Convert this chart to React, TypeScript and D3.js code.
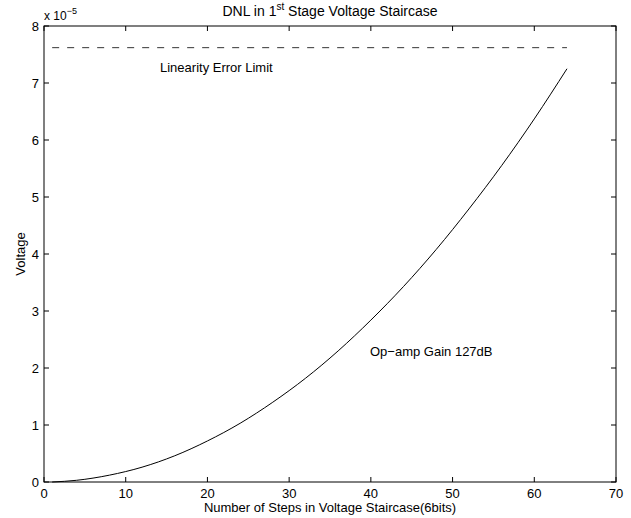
import React from "react";
import * as d3 from "d3";

const steps = [1, 4, 8, 12, 16, 20, 24, 28, 32, 36, 40, 44, 48, 52, 56, 60, 64];
const dnl = [0, 0.03, 0.12, 0.26, 0.46, 0.72, 1.03, 1.4, 1.82, 2.3, 2.84, 3.43, 4.08, 4.79, 5.55, 6.37, 7.25];
const limitX = [1, 64];
const limitValue = 7.62;
const xTicks = [0, 10, 20, 30, 40, 50, 60, 70];
const yTicks = [0, 1, 2, 3, 4, 5, 6, 7, 8];

const W = 631;
const H = 518;
const L = 44;
const R = 616;
const T = 26;
const B = 482;
const FONT = "'Liberation Sans', Arial, Helvetica, sans-serif";

export default function App() {
  const x = d3.scaleLinear().domain([0, 70]).range([L, R]);
  const y = d3.scaleLinear().domain([0, 8]).range([B, T]);
  const line = d3
    .line<number>()
    .x((_, i) => x(steps[i]))
    .y((d) => y(d))
    .curve(d3.curveMonotoneX);
  const path = line(dnl) || "";
  const tl = 5;
  return (
    <svg
      width={W}
      height={H}
      style={{ position: "absolute", left: 0, top: 0, background: "#fff" }}
      fontFamily={FONT}
    >
      <rect x={0} y={0} width={W} height={H} fill="#fff" />
      {xTicks.map((t) => (
        <g key={"x" + t}>
          <line x1={x(t)} x2={x(t)} y1={B} y2={B - tl} stroke="#000" />
          <line x1={x(t)} x2={x(t)} y1={T} y2={T + tl} stroke="#000" />
          <text x={x(t)} y={B + 16} fontSize={13} textAnchor="middle" fill="#000">
            {t}
          </text>
        </g>
      ))}
      {yTicks.map((t) => (
        <g key={"y" + t}>
          <line x1={L} x2={L + tl} y1={y(t)} y2={y(t)} stroke="#000" />
          <line x1={R} x2={R - tl} y1={y(t)} y2={y(t)} stroke="#000" />
          <text x={L - 5} y={y(t) + 5} fontSize={13} textAnchor="end" fill="#000">
            {t}
          </text>
        </g>
      ))}
      <rect x={L} y={T} width={R - L} height={B - T} fill="none" stroke="#000" strokeWidth={1} />
      <line
        x1={x(limitX[0])}
        x2={x(limitX[1])}
        y1={y(limitValue)}
        y2={y(limitValue)}
        stroke="#000"
        strokeWidth={0.8}
        strokeDasharray="7,8"
      />
      <path d={path} fill="none" stroke="#000" strokeWidth={1} />
      <text x={44} y={20} fontSize={12} fill="#000">
        x 10
        <tspan dy={-6} fontSize={9}>
          −5
        </tspan>
      </text>
      <text x={330} y={16} fontSize={14} textAnchor="middle" fill="#000">
        DNL in 1<tspan dy={-6} fontSize={10}>st</tspan>
        <tspan dy={6}> Stage Voltage Staircase</tspan>
      </text>
      <text x={330} y={512} fontSize={13} textAnchor="middle" fill="#000">
        Number of Steps in Voltage Staircase(6bits)
      </text>
      <text
        transform={`translate(25,${(T + B) / 2}) rotate(-90)`}
        fontSize={13}
        textAnchor="middle"
        fill="#000"
      >
        Voltage
      </text>
      <text x={160} y={72} fontSize={13} fill="#000">
        Linearity Error Limit
      </text>
      <text x={370} y={356} fontSize={13} fill="#000">
        Op−amp Gain 127dB
      </text>
    </svg>
  );
}
